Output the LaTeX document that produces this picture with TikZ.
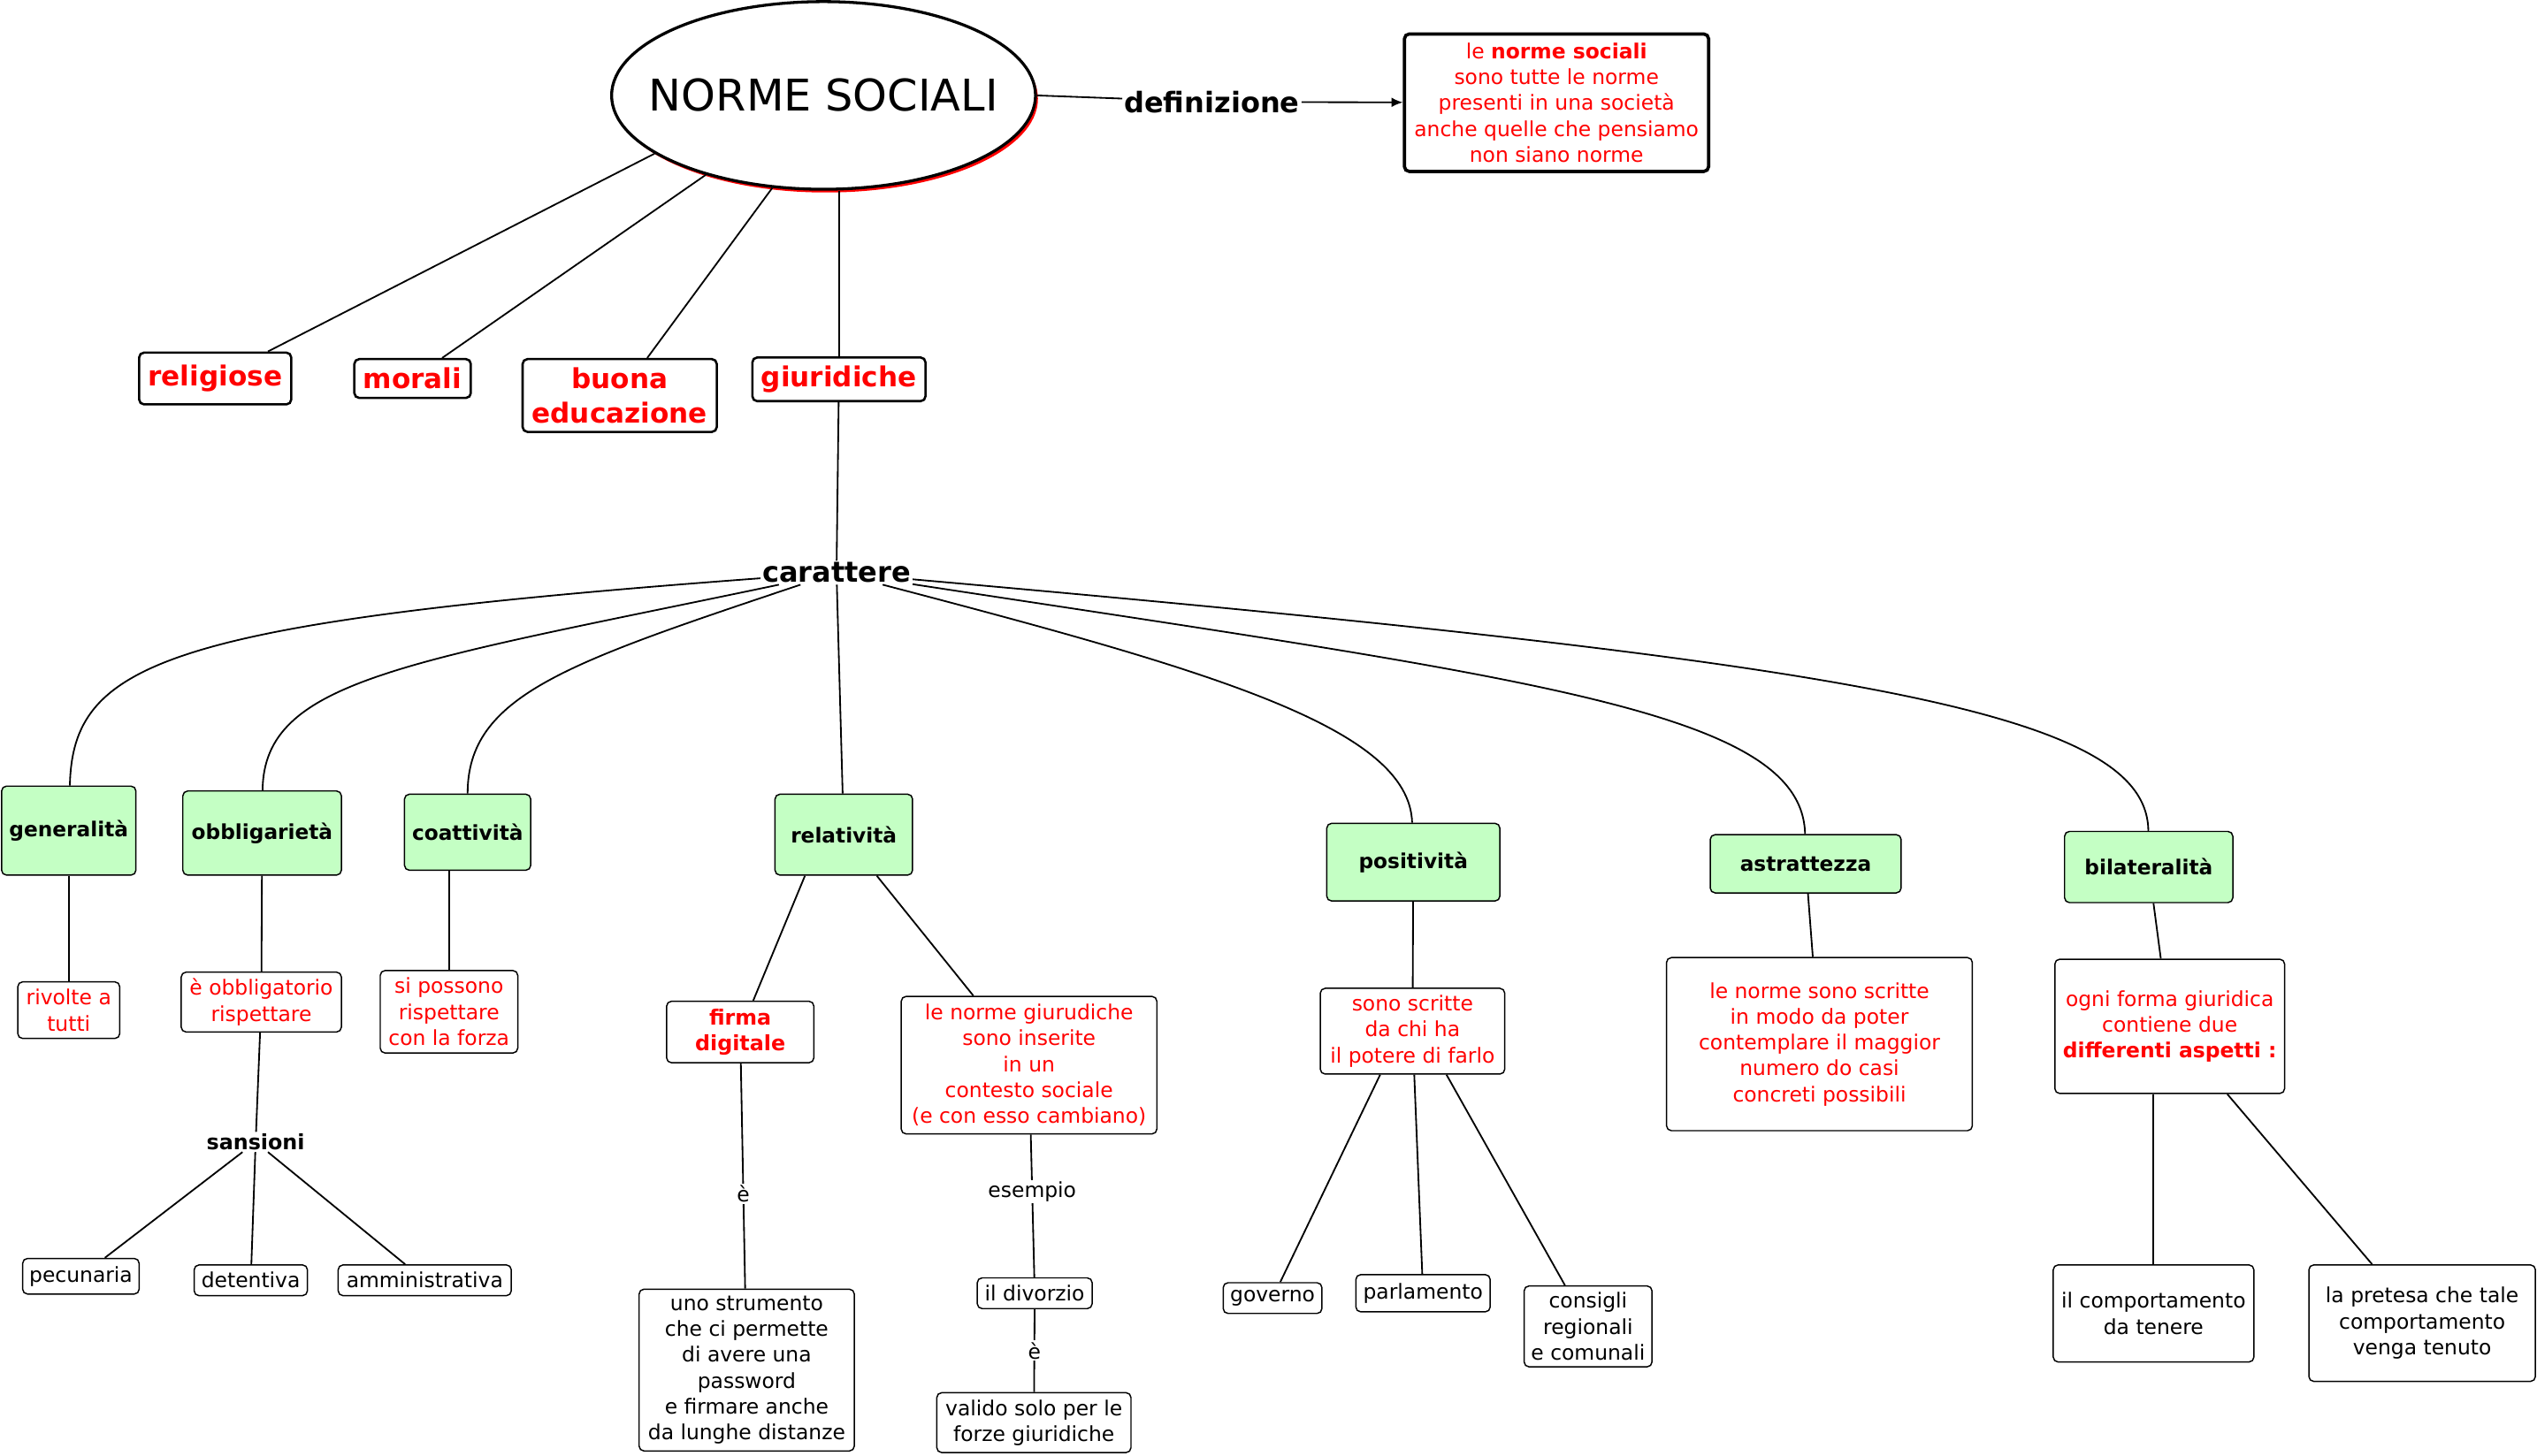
\documentclass[tikz,border=0pt]{standalone}
\usepackage{fontspec}
\setmainfont{DejaVu Sans}
\usepackage{tikz}
\usetikzlibrary{arrows,arrows.meta,shapes.geometric,shadows}
\definecolor{rosso}{RGB}{255,0,0}
\definecolor{verdino}{RGB}{196,255,196}

\begin{document}
\begin{tikzpicture}[x=1pt,y=-1pt,
  testo/.style={font=\fontsize{12.8}{16}\selectfont},
  scatola/.style={draw,rounded corners=3pt,line width=0.8pt,fill=white,align=center,inner sep=0pt,testo},
  rossa/.style={scatola,text=rosso},
  tipo/.style={draw,rounded corners=3pt,line width=1.4pt,fill=white,align=center,inner sep=0pt,text=rosso,font=\fontsize{17}{21}\selectfont\bfseries},
  carat/.style={draw,rounded corners=3pt,line width=0.8pt,fill=verdino,align=center,inner sep=0pt,font=\fontsize{12.7}{16}\selectfont\bfseries},
  grande/.style={font=\fontsize{17.5}{20}\selectfont\bfseries,inner sep=1pt},
  etichetta/.style={fill=white,inner sep=1pt,testo},
  link/.style={line width=1pt}]
\useasboundingbox (0,0) rectangle (1568,899.6);

% centro
\node[ellipse,draw,fill=white,line width=1.8pt,minimum width=262,minimum height=116,
  drop shadow={shadow xshift=1.5pt,shadow yshift=-2pt,fill=rosso,opacity=1},
  label={[font=\fontsize{27}{32}\selectfont]center:NORME SOCIALI}] (norme) at (509,59) {};
\node[grande] (def) at (749,63) {definizione};
\node[rossa,line width=2pt,minimum width=188,minimum height=85] (defbox) at (962,63.5)
  {le \textbf{norme sociali}\\sono tutte le norme\\presenti in una società\\anche quelle che pensiamo\\non siano norme};

% tipi di norme
\node[tipo,minimum width=94,minimum height=32] (rel) at (133,234) {religiose};
\node[tipo,minimum width=72,minimum height=24] (mor) at (255,234) {morali};
\node[tipo,minimum width=120,minimum height=45] (buo) at (383,244.5) {buona\\educazione};
\node[tipo,minimum width=107,minimum height=27] (giu) at (518.5,234.5) {giuridiche};
\node[grande] (car) at (517,354) {carattere};

% caratteri
\node[carat,minimum width=83,minimum height=55] (gen) at (42.5,513.5) {generalità};
\node[carat,minimum width=98,minimum height=52] (obb) at (162,515) {obbligarietà};
\node[carat,minimum width=78,minimum height=47] (coa) at (289,514.5) {coattività};
\node[carat,minimum width=85,minimum height=50] (rla) at (521.5,516) {relatività};
\node[carat,minimum width=107,minimum height=48] (pos) at (873.5,533) {positività};
\node[carat,minimum width=118,minimum height=36] (ast) at (1116,534) {astrattezza};
\node[carat,minimum width=104,minimum height=44] (bil) at (1328,536) {bilateralità};

% spiegazioni
\node[rossa,minimum width=63,minimum height=35] (riv) at (42.5,624.5) {rivolte a\\tutti};
\node[rossa,minimum width=99,minimum height=37] (obl) at (161.5,619.5) {è obbligatorio\\rispettare};
\node[rossa,minimum width=85,minimum height=51] (sip) at (277.5,625.5) {si possono\\rispettare\\con la forza};
\node[font=\fontsize{13}{16}\selectfont\bfseries,inner sep=1pt] (san) at (158,706) {sansioni};
\node[scatola,minimum width=72,minimum height=22] (pec) at (50,789) {pecunaria};
\node[scatola,minimum width=70,minimum height=19] (det) at (155,791.5) {detentiva};
\node[scatola,minimum width=107,minimum height=19] (amm) at (262.5,791.5) {amministrativa};

\node[rossa,font=\fontsize{13}{16}\selectfont\bfseries,minimum width=91,minimum height=38] (fir) at (457.5,638) {firma\\digitale};
\node[scatola,minimum width=133,minimum height=100] (str) at (461.5,847)
  {uno strumento\\che ci permette\\di avere una\\password\\e firmare anche\\da lunghe distanze};
\node[rossa,minimum width=158,minimum height=85] (lng) at (636,658.5)
  {le norme giurudiche\\sono inserite\\in un\\contesto sociale\\(e con esso cambiano)};
\node[scatola,minimum width=71,minimum height=19] (div) at (639.5,799.5) {il divorzio};
\node[scatola,minimum width=120,minimum height=37] (val) at (639,879.5) {valido solo per le\\forze giuridiche};

\node[rossa,minimum width=114,minimum height=53] (sch) at (873,637.5) {sono scritte\\da chi ha\\il potere di farlo};
\node[scatola,minimum width=61,minimum height=19] (gov) at (786.5,802.5) {governo};
\node[scatola,minimum width=83,minimum height=23] (par) at (879.5,799.5) {parlamento};
\node[scatola,minimum width=79,minimum height=50] (con) at (981.5,820) {consigli\\regionali\\e comunali};

\node[rossa,minimum width=189,minimum height=107] (lns) at (1124.5,645.5)
  {le norme sono scritte\\in modo da poter\\contemplare il maggior\\numero do casi\\concreti possibili};
\node[rossa,minimum width=142,minimum height=83] (ogn) at (1341,634.5)
  {ogni forma giuridica\\contiene due\\\textbf{differenti aspetti :}};
\node[scatola,minimum width=124,minimum height=60] (com) at (1331,812) {il comportamento\\da tenere};
\node[scatola,minimum width=140,minimum height=72] (pre) at (1497,818) {la pretesa che tale\\comportamento\\venga tenuto};

% collegamenti
\draw[link] (norme.east) -- (def);
\draw[link,-{Latex[length=7pt,width=6pt]}] (def) -- (defbox);
\draw[link] (norme.199) -- (rel);
\draw[link] (norme.214) -- (mor);
\draw[link] (norme.241.5) -- (buo);
\draw[link] (norme.south -| giu.north) -- (giu);
\draw[link] (giu) -- (car);

\draw[link] (car) .. controls (100,385) and (45,410) .. (gen);
\draw[link] (car) .. controls (250,410) and (163,420) .. (obb);
\draw[link] (car) .. controls (350,410) and (289,430) .. (coa);
\draw[link] (car) -- (rla);
\draw[link] (car) .. controls (750,415) and (871,450) .. (pos);
\draw[link] (car) .. controls (950,420) and (1114,440) .. (ast);
\draw[link] (car) .. controls (1150,410) and (1327,440) .. (bil);

\draw[link] (gen) -- (riv);
\draw[link] (obb) -- (obl);
\draw[link] (coa.south -| sip.north) -- (sip);
\draw[link] (obl) -- (san);
\draw[link] (san) -- (pec);
\draw[link] (san) -- (det);
\draw[link] (san) -- (amm);

\draw[link] ([xshift=-24pt]rla.south) -- (fir);
\draw[link] (rla) -- (lng);
\draw[link] (fir) -- node[etichetta,pos=.58]{è} (str);
\draw[link] (lng) -- node[etichetta,pos=.4]{esempio} (div);
\draw[link] (div) -- node[etichetta]{è} (val);

\draw[link] (pos) -- (sch);
\draw[link] ([xshift=-20pt]sch.south) -- (gov);
\draw[link] (sch) -- (par);
\draw[link] ([xshift=21pt]sch.south) -- (con);

\draw[link] (ast) -- (lns);
\draw[link] (bil) -- (ogn);
\draw[link] (ogn.south -| com.north) -- (com);
\draw[link] (ogn) -- (pre);
\end{tikzpicture}
\end{document}
